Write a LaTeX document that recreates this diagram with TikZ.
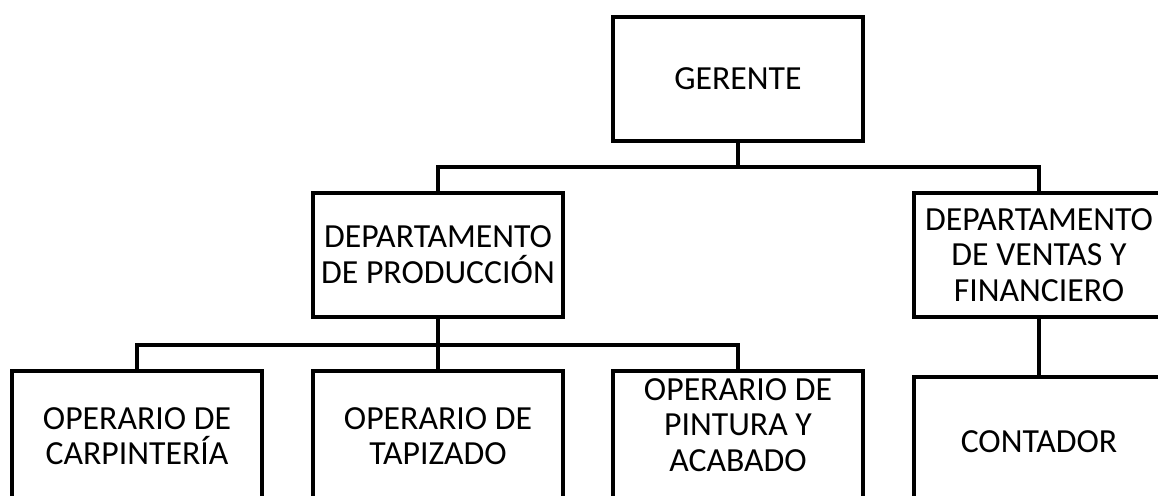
\documentclass[tikz,border=0pt]{standalone}
\usepackage{fontspec}
\setmainfont{Carlito}
\begin{document}
\begin{tikzpicture}[x=0.02cm,y=-0.02cm,
    link/.style={line width=0.08cm}]

      \useasboundingbox (0,0) rectangle (1158,496);
      \clip (0,0) rectangle (1158,496);

      \begin{scope}[every node/.style={draw,line width=0.08cm,minimum width=5cm,
          minimum height=2.48cm,align=center,inner sep=0pt,
          font=\fontsize{19.2}{20.3}\selectfont}]
        \node (g)  at (738,79)  {GERENTE};
        \node (dp) at (438,255) {DEPARTAMENTO\\DE PRODUCCIÓN};
        \node (dv) at (1039,255) {DEPARTAMENTO\\DE VENTAS Y\\FINANCIERO};
        \node[minimum height=2.6cm] (oc) at (137,436) {OPERARIO DE\\CARPINTERÍA};
        \node[minimum height=2.6cm] (ot) at (438,436) {OPERARIO DE\\TAPIZADO};
        \node[minimum height=2.6cm,text depth=0.44cm] (op) at (738,436) {OPERARIO DE\\PINTURA Y\\ACABADO};
        \node[minimum height=2.6cm] (c)  at (1039,442) {CONTADOR};
      \end{scope}

      \coordinate (b1) at (0,167);
      \coordinate (b2) at (0,345);

      \begin{scope}[every path/.style={link}]
        \draw (g.south) -- (g.south |- b1);
        \draw (dp.north) |- (dv.north |- b1) -- (dv.north);
        \draw (dp.south) -- (dp.south |- b2);
        \draw (oc.north) |- (op.north |- b2) -- (op.north);
        \draw (ot.north) -- (ot.north |- b2);
        \draw (dv.south) -- (c.north);
      \end{scope}

    \end{tikzpicture}
\end{document}
